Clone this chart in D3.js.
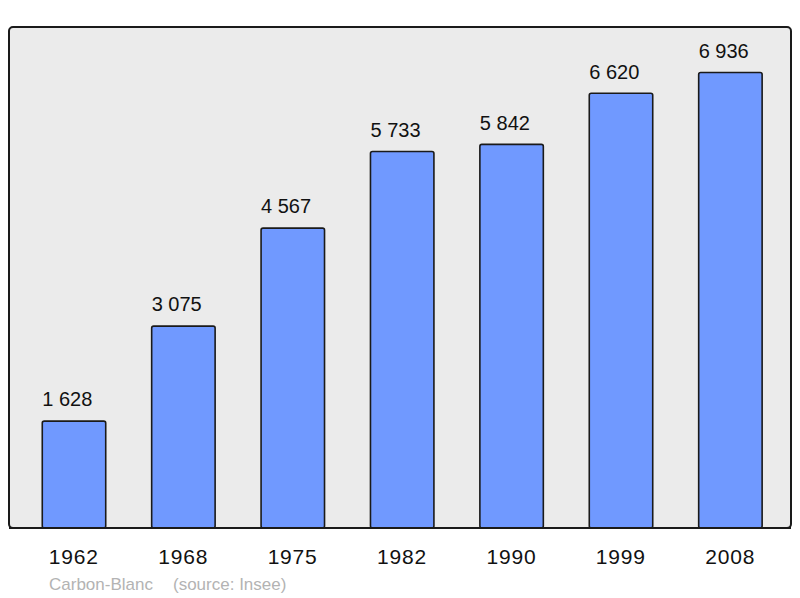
<!DOCTYPE html>
<html><head><meta charset="utf-8">
<script src="https://cdn.jsdelivr.net/npm/d3@7"></script>
<style>body{margin:0;background:#fff}svg{display:block}</style>
</head><body>
<svg id="c" width="800" height="598"></svg>
<script>
const years = ["1962","1968","1975","1982","1990","1999","2008"];
const population = [1628,3075,4567,5733,5842,6620,6936];
const valueLabels = ["1 628","3 075","4 567","5 733","5 842","6 620","6 936"];
const commune = "Carbon-Blanc";
const source = "(source: Insee)";

const svg = d3.select("#c");
const panel = {x0: 9, x1: 791, y0: 27, y1: 528};
const font = "Liberation Sans, Arial, sans-serif";

svg.append("rect").attr("x", panel.x0).attr("y", panel.y0)
  .attr("width", panel.x1 - panel.x0).attr("height", panel.y1 - panel.y0)
  .attr("rx", 4).attr("fill", "#ebebeb").attr("stroke", "#1a1a1a").attr("stroke-width", 2);

const x = d3.scaleBand().domain(years).range([11.2, 793.2]).paddingInner(0.42).paddingOuter(0.284);
const y = d3.scaleLinear().domain([0, d3.max(population) * 1.1]).range([panel.y1, panel.y0]);

const g = svg.append("g");
g.selectAll("rect.bar").data(years).join("rect").attr("class", "bar")
  .attr("x", d => x(d)).attr("width", x.bandwidth())
  .attr("y", (d, i) => y(population[i])).attr("height", (d, i) => panel.y1 - y(population[i]))
  .attr("rx", 2).attr("fill", "#7099ff").attr("stroke", "#1a1a1a").attr("stroke-width", 1.6);

g.selectAll("text.val").data(years).join("text").attr("class", "val")
  .attr("x", d => x(d))
  .attr("y", (d, i) => y(population[i]) - 14.7)
  .attr("text-anchor", "start").attr("font-family", font)
  .attr("font-size", 20).attr("fill", "#111")
  .text((d, i) => valueLabels[i]);

svg.append("line").attr("x1", panel.x0).attr("x2", panel.x1).attr("y1", panel.y1).attr("y2", panel.y1)
  .attr("stroke", "#1a1a1a").attr("stroke-width", 2);

const xAxis = d3.axisBottom(x).tickSize(0).tickPadding(0);
const ax = svg.append("g").attr("transform", `translate(-0.2,${panel.y1})`).call(xAxis);
ax.select(".domain").remove();
ax.selectAll("text").attr("dy", null).attr("y", 36)
  .attr("font-family", font).attr("font-size", 21).attr("letter-spacing", 0.8).attr("fill", "#111");

svg.append("text").attr("x", 49).attr("y", 590)
  .attr("font-family", font).attr("font-size", 17).attr("fill", "#b3b3b3").text(commune);
svg.append("text").attr("x", 173).attr("y", 590)
  .attr("font-family", font).attr("font-size", 17).attr("fill", "#b3b3b3").text(source);
</script>
</body></html>
